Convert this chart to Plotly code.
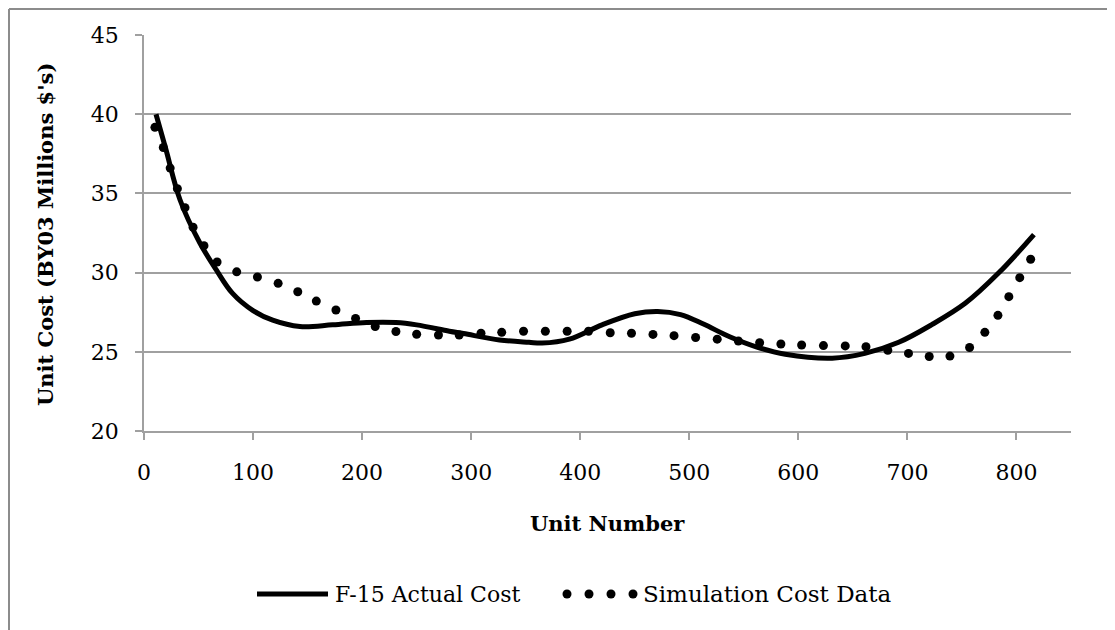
import plotly.graph_objects as go

# ---- data ----
actual_x = [11, 20, 33, 51, 66, 81, 100, 118, 143, 173, 204, 231, 250, 280, 293, 326, 353, 365,
            390, 420, 450, 471, 492, 513, 537, 562, 588, 631, 661, 692, 722, 753, 784, 816]
actual_y = [40.0, 37.8, 34.6, 31.9, 30.2, 28.7, 27.6, 27.0, 26.6, 26.7, 26.85, 26.85, 26.7, 26.3, 26.15, 25.75,
            25.6, 25.55, 25.8, 26.7, 27.4, 27.55, 27.35, 26.75, 25.95, 25.3, 24.85, 24.6, 24.9, 25.6,
            26.7, 28.06, 30.0, 32.4]

sim_x = [10, 17.7, 24, 30.6, 37.6, 45, 55, 67, 85, 104, 123, 141, 158, 176, 194, 212, 231, 250,
         270, 289, 309, 328, 348, 368, 388, 407.6, 427.5, 447, 466.7, 486, 505.8, 525.6, 545,
         564.5, 584, 603, 623, 643, 662, 682, 701, 720, 739, 757, 771, 783, 793, 803, 813]
sim_y = [39.17, 37.9, 36.6, 35.3, 34.1, 32.86, 31.7, 30.67, 30.05, 29.72, 29.32, 28.79, 28.2,
         27.64, 27.11, 26.6, 26.28, 26.11, 26.06, 26.06, 26.17, 26.23, 26.3, 26.3, 26.3, 26.3,
         26.2, 26.17, 26.1, 26.02, 25.9, 25.8, 25.68, 25.57, 25.49, 25.43, 25.39, 25.37, 25.32,
         25.1, 24.9, 24.7, 24.73, 25.27, 26.23, 27.3, 28.48, 29.68, 30.84]

series_names = ["F-15 Actual Cost", "Simulation Cost Data"]
x_title = "Unit Number"
y_title = "Unit Cost (BY03 Millions $'s)"
x_ticks = [0, 100, 200, 300, 400, 500, 600, 700, 800]
y_ticks = [20, 25, 30, 35, 40, 45]

FONT = "DejaVu Serif"
OFF = 8  # page body margin
W, H = 1115 - OFF, 630 - OFF
L, R, T, B = 144 - OFF, 44, 35 - OFF, 199
PW, PH = W - L - R, H - T - B


def px(xp):
    # reference page pixel x -> paper coordinate
    return (xp - OFF - L) / PW


def py(yp):
    # reference page pixel y -> paper coordinate
    return (H - B - (yp - OFF)) / PH


fig = go.Figure()
fig.add_trace(go.Scatter(x=actual_x, y=actual_y, mode="lines", name=series_names[0],
                         line=dict(color="black", width=5, shape="spline", smoothing=1.0),
                         showlegend=False))
fig.add_trace(go.Scatter(x=sim_x, y=sim_y, mode="markers", name=series_names[1],
                         marker=dict(color="black", size=9, line=dict(width=0)),
                         showlegend=False))

gray = "#a0a0a0"
fig.update_layout(
    width=W, height=H,
    margin=dict(l=L, r=R, t=T, b=B),
    paper_bgcolor="white", plot_bgcolor="white",
    font=dict(family=FONT, size=22, color="black"),
    xaxis=dict(range=[0, 850], tickvals=x_ticks, showgrid=False, zeroline=False,
               showline=True, linecolor=gray, linewidth=1.5,
               ticks="outside", ticklen=7, tickcolor=gray, tickwidth=1.5,
               ticklabelstandoff=14, tickfont=dict(size=22)),
    yaxis=dict(range=[20, 45], tickvals=y_ticks, showgrid=True, gridcolor=gray, gridwidth=1.5,
               zeroline=False, showline=True, linecolor=gray, linewidth=1.5,
               ticks="outside", ticklen=7, tickcolor=gray, tickwidth=1.5,
               ticklabelstandoff=12, tickfont=dict(size=22)),
)

# axis titles
fig.add_annotation(text="<b>" + x_title + "</b>", x=0.5, y=py(523), xref="paper", yref="paper",
                   showarrow=False, xanchor="center", yanchor="middle", font=dict(size=21))
fig.add_annotation(text="<b>" + y_title + "</b>", x=px(46), y=py(235), xref="paper", yref="paper",
                   showarrow=False, textangle=-90, xanchor="center", yanchor="middle",
                   font=dict(size=21))

# custom legend
ly = py(594)
fig.add_shape(type="line", xref="paper", yref="paper", x0=px(257), x1=px(328), y0=ly, y1=ly,
              line=dict(color="black", width=5))
fig.add_annotation(text=series_names[0], x=px(333), y=ly, xref="paper", yref="paper",
                   showarrow=False, xanchor="left", yanchor="middle", font=dict(size=22))
for dx in [567, 589, 611, 633]:
    fig.add_shape(type="circle", xref="paper", yref="paper", xsizemode="pixel", ysizemode="pixel",
                  xanchor=px(dx), yanchor=ly, x0=-4.5, x1=4.5, y0=-4.5, y1=4.5,
                  fillcolor="black", line=dict(width=0))
fig.add_annotation(text=series_names[1], x=px(641), y=ly, xref="paper", yref="paper",
                   showarrow=False, xanchor="left", yanchor="middle", font=dict(size=23))

# chart border (top and left edges visible), kept just inside the figure
border = "#8c8c8c"
bx, by = px(OFF + 1), py(OFF + 1)
fig.add_shape(type="line", xref="paper", yref="paper", x0=bx, x1=px(1125), y0=by, y1=by,
              line=dict(color=border, width=2))
fig.add_shape(type="line", xref="paper", yref="paper", x0=bx, x1=bx, y0=by, y1=py(640),
              line=dict(color=border, width=2))

fig.write_html("out.html")
